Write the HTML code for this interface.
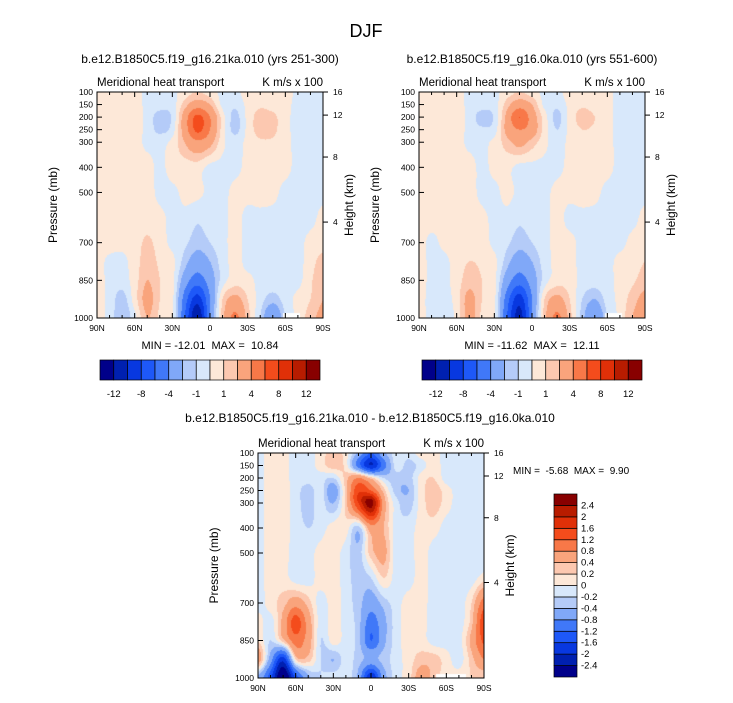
<!DOCTYPE html>
<html><head><meta charset="utf-8">
<style>
body{margin:0;background:#fff;}
#wrap{position:relative;width:733px;height:703px;overflow:hidden;font-family:"Liberation Sans",sans-serif;}
canvas{position:absolute;}
svg{position:absolute;left:0;top:0;}
svg text{white-space:pre;}
</style></head>
<body>
<div id="wrap">
<canvas id="c1"></canvas>
<canvas id="c2"></canvas>
<canvas id="c3"></canvas>
<svg id="ov" width="733" height="703"></svg>
</div>
<script>
// ---- data ----
const lats=[90,80,70,60,50,40,30,20,10,0,-10,-20,-30,-40,-50,-60,-70,-80,-90];
const pres=[100,150,200,250,300,400,500,600,700,775,850,925,1000];
const levelsTop=[-12,-10,-8,-6,-4,-2,-1,0,1,2,4,6,8,10,12];
const levelsDiff=[-2.4,-2,-1.6,-1.2,-0.8,-0.4,-0.2,0,0.2,0.4,0.8,1.2,1.6,2,2.4];
const labelsTop=["-12","-8","-4","-1","1","4","8","12"];
const labelsDiff=["-2.4","-2","-1.6","-1.2","-0.8","-0.4","-0.2","0","0.2","0.4","0.8","1.2","1.6","2","2.4"];
const presTicks=[100,150,200,250,300,400,500,700,850,1000];
const heightTicks=[[16,100],[12,192],[8,359],[4,618]];
const latTicks=[90,60,30,0,-30,-60,-90];
const latTickLabels=["90N","60N","30N","0","30S","60S","90S"];
const colors=['#00008a','#0020b0','#0838e0','#1e58f8','#4078f8','#80a8f8','#b4cbf8','#d8e8fb','#fde8d8','#fcc8b0','#f9a47c','#f87848','#f44c1c','#e03008','#b81c00','#880000'];

const grid21ka=[
[0.5,0.5,0.5,0.5,-0.3,-0.3,-0.3,0.5,1,0.5,-0.3,-0.3,0.5,0.5,0.5,0.5,-0.3,-0.3,-0.3],
[0.5,0.5,0.5,0.5,-0.3,-0.5,-0.5,1.5,3,2,-0.3,-0.8,0.3,0.8,0.5,0.3,-0.3,-0.3,-0.3],
[0.5,0.5,0.5,0.5,-0.3,-1.5,-0.8,3,6.5,4,0.5,-1.3,0.3,1.5,1.3,0.3,-0.3,-0.3,-0.3],
[0.5,0.5,0.5,0.5,-0.3,-1.3,-0.5,3,6.5,4,0.5,-1.3,0.3,1.5,1.3,0.3,-0.3,-0.3,-0.3],
[0.5,0.5,0.5,0.5,-0.3,-0.3,0.3,2,3.5,2.5,0.3,-0.5,0.3,0.8,0.8,0.3,-0.3,-0.3,-0.3],
[0.5,0.5,0.5,0.5,0.5,-0.3,0.5,0.5,0.5,-0.3,-0.3,-0.3,0.3,0.5,0.5,0.3,-0.3,-0.3,-0.3],
[0.5,0.5,0.5,0.5,0.5,-0.3,-0.3,0.3,0.3,-0.3,-0.3,0.3,0.3,0.5,0.3,-0.3,-0.3,-0.3,-0.3],
[0.5,0.5,0.5,0.5,0.5,0.3,-0.3,-0.3,-0.8,-0.5,-0.3,0.3,-0.3,-0.3,-0.3,-0.3,-0.3,-0.3,0.3],
[0.5,0.5,0.3,0.5,1.2,0.5,-0.3,-0.8,-1.5,-1,-0.3,0.3,-0.3,-0.3,-0.3,-0.3,-0.3,0.3,0.5],
[0.5,-0.3,-0.3,0.5,1.5,0.8,0.3,-1.5,-3,-2,-0.5,0.3,-0.3,-0.3,-0.3,-0.3,-0.3,0.5,1.5],
[0.5,-0.3,-0.5,0.5,2,1,0.3,-3,-5,-3,-0.5,0.5,0.3,-0.3,-0.5,-0.3,-0.3,0.8,2],
[0.3,-0.3,-1.5,0.5,2.5,1,0.3,-5,-9,-4,1,2.5,1,-0.5,-1.5,-0.5,0.3,1,2],
[0.3,-0.3,-2,-0.3,2,0.8,0.3,-6,-12,-4,1.5,4.5,1.5,-1,-4,-1,0.3,1.5,2.5]];

const grid0ka=[
[0.5,0.5,0.5,0.5,-0.3,-0.3,-0.3,0.5,1,0.5,-0.3,-0.3,0.5,0.5,0.5,0.3,-0.3,-0.3,-0.3],
[0.5,0.5,0.5,0.5,-0.3,-0.5,-0.5,1.5,3,2,-0.3,-0.8,0.3,0.8,0.5,0.3,-0.3,-0.3,-0.3],
[0.5,0.5,0.5,0.5,-0.3,-1.5,-0.8,2.5,6,3,0.5,-1.3,0.3,1.5,1,0.3,-0.3,-0.3,-0.3],
[0.5,0.5,0.5,0.5,-0.3,-0.8,-0.5,2.5,4,3,0.5,-1,0.3,1,0.8,0.3,-0.3,-0.3,-0.3],
[0.5,0.5,0.5,0.5,-0.3,-0.3,0.3,1.5,2.5,1.5,0.3,-0.5,0.3,0.8,0.5,0.3,-0.3,-0.3,-0.3],
[0.5,0.5,0.5,0.5,0.5,-0.3,0.3,0.3,-0.3,-0.3,-0.3,-0.3,0.3,0.5,0.5,0.3,-0.3,-0.3,-0.3],
[0.5,0.5,0.5,0.5,0.5,-0.3,-0.3,0.3,-0.3,-0.5,-0.3,0.3,0.3,0.5,0.3,-0.3,-0.3,-0.3,-0.3],
[0.5,0.5,0.5,0.5,0.5,0.3,-0.3,-0.3,-0.8,-0.5,-0.3,0.3,-0.3,-0.3,-0.3,-0.3,-0.3,-0.3,0.3],
[0.5,-0.3,0.3,0.5,0.5,0.5,-0.3,-0.8,-1.5,-1,-0.3,0.3,0.3,-0.3,-0.3,-0.3,-0.3,0.3,0.5],
[0.5,-0.3,-0.3,0.5,1,0.8,0.3,-1.5,-3,-2,-0.5,0.3,0.3,-0.3,-0.3,-0.3,0.3,0.5,1],
[0.5,-0.3,-0.3,0.5,1.5,1,0.3,-3,-5,-3,-0.5,0.5,0.5,-0.3,-0.5,-0.3,0.3,0.8,1.5],
[0.3,-0.3,-0.5,0.5,2.5,1,0.3,-5,-9,-4,1,2.5,1,-1,-2,-0.5,0.3,1.5,2.5],
[0.3,-0.3,-0.8,0.3,2.5,0.8,0.3,-6,-11,-4,1.5,4.5,1.5,-1.5,-4,-1,0.3,2,3]];

const gridDiff=[
[-0.1,0.1,0.1,-0.1,-0.1,0.1,0.3,0.1,-0.5,-1.2,-0.5,-0.1,-0.1,0.1,0.1,-0.1,-0.1,-0.1,-0.1],
[-0.1,0.1,0.1,-0.1,-0.1,0.1,0.3,0.1,-1,-2,-1,-0.1,-0.3,-0.1,0.1,-0.1,-0.1,-0.1,-0.1],
[-0.1,0.1,0.1,-0.1,-0.1,-0.1,-0.2,0.3,0.8,0.3,-0.2,-0.3,-0.3,0.1,0.2,-0.1,-0.1,-0.1,-0.1],
[-0.1,0.1,0.1,-0.1,-0.3,-0.1,-0.6,0.3,1.5,1.2,0.3,-0.3,-0.4,0.1,0.3,0.1,-0.1,-0.1,-0.1],
[-0.1,0.1,0.1,-0.1,-0.3,-0.1,-0.4,0.3,1.6,2.6,0.6,-0.1,-0.3,0.1,0.3,0.1,-0.1,-0.1,-0.1],
[-0.1,0.1,0.1,-0.1,-0.2,-0.1,0.1,0.1,-0.3,0.6,0.4,-0.1,-0.1,0.1,0.1,-0.1,-0.1,-0.1,-0.1],
[-0.1,0.1,0.1,-0.1,-0.1,0.1,0.1,-0.1,-0.3,0.3,0.5,-0.1,-0.1,0.1,-0.1,-0.1,-0.1,-0.1,-0.1],
[-0.1,0.1,0.1,-0.1,-0.1,0.1,0.1,-0.1,-0.3,-0.2,0.2,-0.1,-0.1,0.1,-0.1,-0.1,-0.1,-0.1,0.1],
[-0.1,0.1,0.3,0.6,0.3,-0.1,0.1,-0.1,-0.3,-0.6,-0.3,-0.1,0.1,0.1,-0.1,-0.1,-0.1,0.2,1],
[0.1,-0.1,0.5,1.4,0.6,-0.1,0.1,-0.1,-0.3,-1,-0.5,-0.1,0.1,0.1,-0.1,-0.1,-0.1,0.3,1.5],
[0.2,-0.2,0.3,1,0.6,-0.2,0.1,-0.1,-0.3,-1.2,-0.5,-0.1,0.1,0.1,-0.1,-0.1,-0.1,0.5,1.3],
[0.6,-0.6,-1.8,0.2,0.3,-0.2,-0.4,-0.1,-0.3,-0.5,-0.3,-0.1,0.1,0.3,0.3,0.1,-0.1,0.3,0.8],
[-0.5,-1.5,-3,-1.5,-0.5,-0.2,-0.1,-0.1,-0.5,-2,-0.6,-0.1,0.1,0.6,0.3,0.1,0.1,0.2,0.2]];

// ---- rendering ----
const NS="http://www.w3.org/2000/svg";
const ov=document.getElementById('ov');
function mk(tag,attrs,name,parent){const e=document.createElementNS(NS,tag);for(const k in attrs)e.setAttribute(k,attrs[k]);


(parent||ov).appendChild(e);return e;}
function txt(x,y,s,size,anchor,name,extra){const t=mk('text',Object.assign({x:x,y:y,'font-size':size,'text-anchor':anchor||'start','font-family':'Liberation Sans, sans-serif',fill:'#000'},extra||{}),name);t.textContent=s;return t;}
function hex(c){return [parseInt(c.slice(1,3),16),parseInt(c.slice(3,5),16),parseInt(c.slice(5,7),16)];}
function cr(p0,p1,p2,p3,t){return 0.5*((2*p1)+(-p0+p2)*t+(2*p0-5*p1+4*p2-p3)*t*t+(-p0+3*p1-3*p2+p3)*t*t*t);}
function G(grid,k,i){k=Math.max(0,Math.min(pres.length-1,k));i=Math.max(0,Math.min(lats.length-1,i));return grid[k][i];}
function sample(grid,lat,p){
  let fi=(90-lat)/10;let i=Math.min(Math.floor(fi),lats.length-2);let tx=fi-i;
  let k=0;while(k<pres.length-2&&p>pres[k+1])k++;let ty=(p-pres[k])/(pres[k+1]-pres[k]);
  const rows=[];for(let r=-1;r<=2;r++)rows.push(cr(G(grid,k+r,i-1),G(grid,k+r,i),G(grid,k+r,i+1),G(grid,k+r,i+2),tx));
  return cr(rows[0],rows[1],rows[2],rows[3],ty);}
function level(v,levels){let n=0;for(const l of levels)if(v>=l)n++;return n;}

function panel(cv,grid,levels,g,maskLat){
  const c=document.getElementById(cv);c.width=g.w;c.height=g.h;c.style.left=g.x0+'px';c.style.top=g.y0+'px';
  const ctx=c.getContext('2d');const img=ctx.createImageData(g.w,g.h);const rgb=colors.map(hex);
  for(let py=0;py<g.h;py++)for(let px=0;px<g.w;px++){
    const lat=90-(px+0.5)/g.w*180,p=100+(py+0.5)/g.h*900;
    let col=rgb[level(sample(grid,lat,p),levels)];
    if(p>982&&lat<maskLat[0]&&lat>maskLat[1])col=[255,255,255];
    const o=(py*g.w+px)*4;img.data[o]=col[0];img.data[o+1]=col[1];img.data[o+2]=col[2];img.data[o+3]=255;}
  ctx.putImageData(img,0,0);
  const X=lat=>g.x0+(90-lat)/180*g.w, Y=p=>g.y0+(p-100)/900*g.h;
  mk('rect',{x:g.x0,y:g.y0,width:g.w,height:g.h,fill:'none',stroke:'#000','stroke-width':1},'plot-frame');
  presTicks.forEach(p=>{mk('line',{x1:g.x0,x2:g.x0+5,y1:Y(p),y2:Y(p),stroke:'#000'},'y-tick');
    txt(g.x0-4,Y(p)+3,String(p),8.5,'end','y-tick-label');});
  heightTicks.forEach(h=>{mk('line',{x1:g.x0+g.w,x2:g.x0+g.w+5,y1:Y(h[1]),y2:Y(h[1]),stroke:'#000'},'height-tick');
    txt(g.x0+g.w+10,Y(h[1])+3,String(h[0]),8.5,'start','height-tick-label');});
  for(let l=90;l>=-90;l-=10){const major=l%30===0;
    mk('line',{x1:X(l),x2:X(l),y1:g.y0+g.h,y2:g.y0+g.h-(major?5:3),stroke:'#000'},'x-tick');
    mk('line',{x1:X(l),x2:X(l),y1:g.y0,y2:g.y0+(major?5:3),stroke:'#000'},'x-tick-top');}
  latTicks.forEach((l,i)=>txt(X(l),g.y0+g.h+13,latTickLabels[i],8.5,'middle','x-tick-label'));
  txt(g.x0,g.y0-6,'Meridional heat transport',11.5,'start','subtitle-left');
  txt(g.x0+g.w,g.y0-6,'K m/s x 100',11.5,'end','subtitle-right');
  const ty=g.y0+g.h/2;
  txt(g.x0-40,ty,'Pressure (mb)',12,'middle','y-axis-title',{transform:`rotate(-90 ${g.x0-40} ${ty})`});
  txt(g.x0+g.w+30,ty,'Height (km)',12,'middle','height-axis-title',{transform:`rotate(-90 ${g.x0+g.w+30} ${ty})`});
}
const G1={x0:97,y0:92,w:226,h:226},G2={x0:419,y0:92,w:226,h:226},G3={x0:258,y0:453,w:226,h:225};
panel('c1',grid21ka,levelsTop,G1,[-58,-72]);
panel('c2',grid0ka,levelsTop,G2,[-58,-72]);
panel('c3',gridDiff,levelsDiff,G3,[-52,-76]);

txt(366,37,'DJF',18,'middle','figure-title');
txt(210,63,'b.e12.B1850C5.f19_g16.21ka.010 (yrs 251-300)',12,'middle','panel1-title');
txt(532,63,'b.e12.B1850C5.f19_g16.0ka.010 (yrs 551-600)',12,'middle','panel2-title');
txt(370,422,'b.e12.B1850C5.f19_g16.21ka.010 - b.e12.B1850C5.f19_g16.0ka.010',12,'middle','panel3-title');
txt(210,349,'MIN = -12.01  MAX =  10.84',11,'middle','panel1-minmax');
txt(532,349,'MIN = -11.62  MAX =  12.11',11,'middle','panel2-minmax');
txt(513,474,'MIN =  -5.68  MAX =  9.90',10,'start','panel3-minmax');

function hbar(x0,name){const w=220/16;
  colors.forEach((c,i)=>mk('rect',{x:x0+i*w,y:360,width:w,height:20,fill:c,stroke:'#000','stroke-width':0.7},name+'-box'));
  labelsTop.forEach((s,j)=>txt(x0+(2*j+1)*w,397,s,9.5,'middle',name+'-label'));}
hbar(100,'colorbar-top-left');hbar(422,'colorbar-top-right');
(function(){const x0=554,y0=494,h=183/16;
  colors.forEach((c,i)=>mk('rect',{x:x0,y:y0+(15-i)*h,width:23,height:h,fill:c,stroke:'#000','stroke-width':0.7},'colorbar-diff-box'));
  labelsDiff.forEach((s,j)=>txt(x0+27,y0+(15-j)*h+3,s,9.5,'start','colorbar-diff-label'));})();
</script>
</body></html>
